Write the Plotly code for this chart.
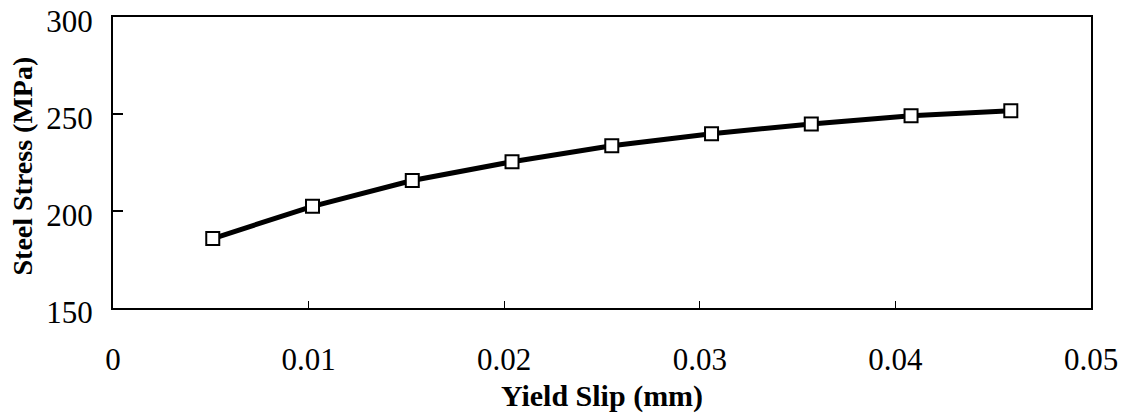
import plotly.graph_objects as go

slip = [0.0051, 0.0102, 0.0153, 0.0204, 0.0255, 0.0306, 0.0357, 0.0408, 0.0459]
stress = [185.8, 202.4, 215.7, 225.4, 233.6, 239.8, 244.9, 249.1, 251.7]

x_ticks = [0, 0.01, 0.02, 0.03, 0.04, 0.05]
x_labels = ["0", "0.01", "0.02", "0.03", "0.04", "0.05"]
y_ticks = [150, 200, 250, 300]
y_labels = ["150", "200", "250", "300"]

font = "Liberation Serif, Times New Roman, serif"

fig = go.Figure()
fig.add_trace(go.Scatter(
    x=slip, y=stress, mode="lines+markers",
    line=dict(color="black", width=5),
    marker=dict(symbol="square", size=13, color="white",
                line=dict(color="black", width=2)),
    showlegend=False,
))

fig.update_layout(
    width=1127, height=417,
    margin=dict(l=113, r=36, t=17, b=109, autoexpand=False),
    paper_bgcolor="white", plot_bgcolor="white",
    font=dict(family=font, color="black", size=30),
    xaxis=dict(
        range=[0, 0.05], tickvals=x_ticks, ticktext=x_labels,
        showgrid=False, zeroline=False, automargin=False,
        showline=True, linecolor="black", linewidth=2, mirror=True,
        ticks="inside", ticklen=7, tickwidth=1, tickcolor="black",
        ticklabelstandoff=23, ticklabeloverflow="allow",
        tickfont=dict(family=font, size=31),
        title=dict(text="<b>Yield Slip (mm)</b>", font=dict(family=font, size=30), standoff=9),
    ),
    yaxis=dict(
        range=[150, 300], tickvals=y_ticks, ticktext=y_labels,
        showgrid=False, zeroline=False, automargin=False,
        showline=True, linecolor="black", linewidth=2, mirror=True,
        ticks="inside", ticklen=10, tickwidth=2, tickcolor="black",
        ticklabelstandoff=12, ticklabelshift=4, ticklabeloverflow="allow",
        tickfont=dict(family=font, size=31),
    ),
    annotations=[dict(
        text="<b>Steel Stress (MPa)</b>", textangle=-90,
        xref="paper", yref="paper", x=0, y=0.5,
        xanchor="center", yanchor="middle", xshift=-91, yshift=-4,
        showarrow=False, font=dict(family=font, size=28, color="black"),
    )],
)

fig.write_html("out.html")
